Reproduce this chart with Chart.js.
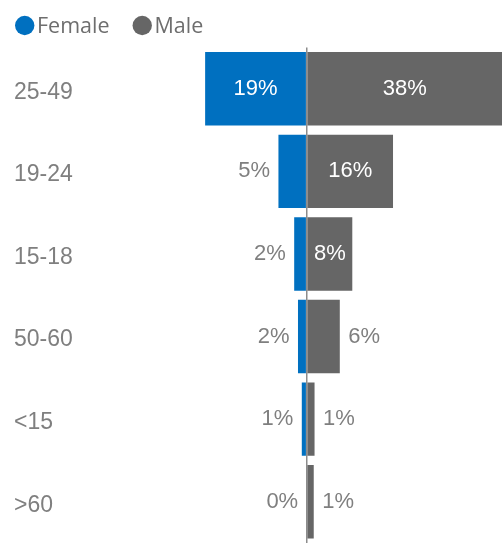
<!DOCTYPE html>
<html>
<head>
<meta charset="utf-8">
<script src="https://cdn.jsdelivr.net/npm/chart.js@4.4.0/dist/chart.umd.min.js"></script>
<style>
  html, body { margin: 0; padding: 0; background: #fff; }
  #wrap { width: 502px; height: 543px; }
</style>
</head>
<body>
<div id="wrap"><canvas id="ageChart"></canvas></div>
<script>
// age groups, top to bottom
const ageGroups = ['25-49', '19-24', '15-18', '50-60', '<15', '>60'];
// share of users in %
const femaleShare = [18.7, 5.2, 2.3, 1.6, 0.9, 0];
const maleShare = [37.8, 15.9, 8.4, 6.1, 1.45, 1.3];
const seriesNames = ['Female', 'Male'];
const seriesColors = ['#0070c0', '#666666'];

// % labels: white inside the bar if it fits, grey outside otherwise
const barLabels = {
  id: 'barLabels',
  afterDatasetsDraw(chart) {
    const { ctx, chartArea } = chart;
    ctx.save();
    ctx.font = '22px "Liberation Sans", Arial, sans-serif';
    ctx.textBaseline = 'middle';
    chart.data.datasets.forEach((ds, di) => {
      const meta = chart.getDatasetMeta(di);
      const values = di === 0 ? femaleShare : maleShare;
      meta.data.forEach((bar, i) => {
        const text = Math.round(values[i]) + '%';
        const tw = ctx.measureText(text).width;
        const end = Math.max(chartArea.left, Math.min(bar.x, chartArea.right));
        const width = Math.abs(end - bar.base);
        if (width > tw + 10) {
          ctx.fillStyle = '#ffffff';
          ctx.textAlign = 'center';
          ctx.fillText(text, (end + bar.base) / 2, bar.y);
        } else {
          ctx.fillStyle = '#7f7f7f';
          if (di === 0) {
            ctx.textAlign = 'right';
            ctx.fillText(text, bar.x - 8.5, bar.y);
          } else {
            ctx.textAlign = 'left';
            ctx.fillText(text, bar.x + 8.5, bar.y);
          }
        }
      });
    });
    ctx.restore();
  }
};

// legend with round dots, tighter than the built-in one
const dotLegend = {
  id: 'dotLegend',
  afterDraw(chart) {
    const { ctx } = chart;
    ctx.save();
    ctx.font = '21.5px "Open Sans", sans-serif';
    ctx.textBaseline = 'alphabetic';
    ctx.textAlign = 'left';
    let x = 15;
    chart.data.datasets.forEach(ds => {
      ctx.fillStyle = ds.backgroundColor;
      ctx.beginPath();
      ctx.arc(x + 9.7, 25.5, 9.7, 0, Math.PI * 2);
      ctx.fill();
      ctx.fillStyle = '#6e6e6e';
      ctx.fillText(ds.label, x + 22, 32.5);
      x += 22 + ctx.measureText(ds.label).width + 23;
    });
    ctx.restore();
  }
};

new Chart(document.getElementById('ageChart'), {
  type: 'bar',
  data: {
    labels: ageGroups,
    datasets: [
      {
        label: seriesNames[0],
        data: femaleShare.map(v => -v),
        backgroundColor: seriesColors[0],
        barPercentage: 0.89,
        categoryPercentage: 1
      },
      {
        label: seriesNames[1],
        data: maleShare,
        backgroundColor: seriesColors[1],
        barPercentage: 0.89,
        categoryPercentage: 1
      }
    ]
  },
  options: {
    indexAxis: 'y',
    responsive: true,
    maintainAspectRatio: false,
    animation: false,
    layout: { padding: { top: 47.5, left: 14, right: 0, bottom: 0 } },
    plugins: {
      legend: { display: false },
      tooltip: { enabled: false }
    },
    scales: {
      x: {
        stacked: true,
        min: -20.75,
        max: 35.97,
        border: { display: false },
        ticks: { display: false, stepSize: 10 },
        grid: {
          drawTicks: false,
          lineWidth: 1.5,
          color: c => (c.tick && c.tick.value === 0 ? '#8c8c8c' : 'rgba(0,0,0,0)')
        }
      },
      y: {
        stacked: true,
        border: { display: false },
        grid: { display: false },
        afterFit: scale => {
          scale.width = 180;
          scale.paddingTop = 0;
          scale.paddingBottom = 0;
        },
        ticks: {
          crossAlign: 'far',
          padding: 0,
          labelOffset: 3.5,
          color: '#7f7f7f',
          font: { family: '"Liberation Sans", Arial, sans-serif', size: 23 }
        }
      }
    }
  },
  plugins: [barLabels, dotLegend]
});
</script>
</body>
</html>
